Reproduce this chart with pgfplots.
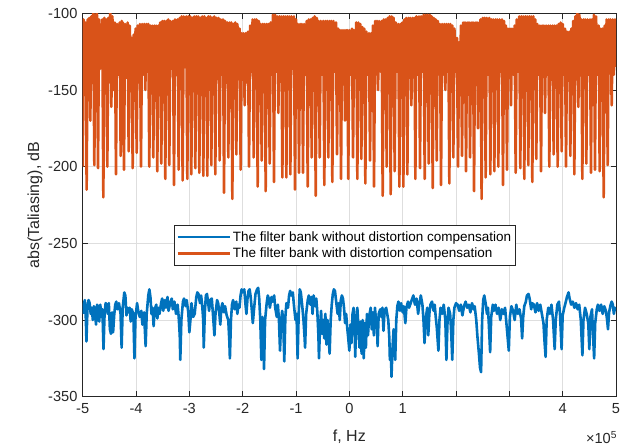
\documentclass[border=0pt]{standalone}
\usepackage{fontspec}
\setmainfont{Liberation Sans}
\usepackage{pgfplots}
\pgfplotsset{compat=1.18}
\definecolor{axc}{RGB}{38,38,38}
\definecolor{gridc}{RGB}{222,222,222}
\definecolor{mblue}{RGB}{0,114,189}
\definecolor{morange}{RGB}{217,83,25}
\begin{document}
\begin{tikzpicture}
\begin{axis}[
  at={(0,0)}, anchor=south west,
  scale only axis, width=533.3bp, height=383.4bp,
  xmin=-5, xmax=5, ymin=-350, ymax=-100,
  xtick={-5,-4,-3,-2,-1,0,1,2,3,4,5},
  xticklabels={-5,-4,-3,-2,-1,0,1,,,4,5},
  ytick={-350,-300,-250,-200,-150,-100},
  yticklabels={-350,-300,-250,-200,-150,-100},
  xtick pos=both, ytick pos=both,
  xticklabel pos=lower, yticklabel pos=left,
  tick align=inside, major tick length=5.3bp,
  grid=major,
  major grid style={draw=gridc, line width=0.6bp},
  axis line style={draw=axc, line width=0.7bp},
  tick style={draw=axc, line width=0.7bp},
  tick label style={font=\fontsize{14.6bp}{17bp}\selectfont, text=axc},
  xticklabel style={yshift=-3bp},
  yticklabel style={xshift=-1.8bp},
  xlabel={f, Hz}, ylabel={abs(Taliasing), dB},
  label style={font=\fontsize{16bp}{19bp}\selectfont, text=axc},
  xlabel style={at={(axis description cs:0.5,-0.1051)}, anchor=center},
  ylabel style={at={(axis description cs:-0.0894,0.5)}, anchor=center, rotate=0},
  legend style={at={(0.1712,0.4478)}, anchor=north west, draw=axc, line width=0.5bp, fill=white,
    font=\fontsize{13.5bp}{16bp}\selectfont, text=black, inner xsep=2bp, inner ysep=4bp,
    row sep=1.5bp, /tikz/every even column/.append style={column sep=1bp}},
  legend cell align=left,
  legend image code/.code={\path (0bp,0bp) -- (52bp,0bp); \draw[#1, line width=2.6bp] (17bp,0bp) -- (52bp,0bp);},
  every axis plot/.append style={line width=2.6bp, line join=round},
]
\addplot[mblue] table[row sep=\\] {
x y\\
-5.00 -296\\ -4.98 -290\\ -4.96 -287\\ -4.94 -300\\ -4.93 -314\\ -4.91 -292\\ -4.89 -287\\ -4.87 -289\\ -4.85 -296\\ -4.83 -292\\
-4.81 -300\\ -4.79 -291\\ -4.77 -295\\ -4.75 -303\\ -4.73 -290\\ -4.71 -293\\ -4.69 -301\\ -4.67 -290\\ -4.65 -298\\ -4.63 -293\\
-4.61 -319\\ -4.59 -296\\ -4.57 -289\\ -4.55 -290\\ -4.53 -296\\ -4.51 -289\\ -4.49 -306\\ -4.47 -309\\ -4.45 -295\\ -4.43 -308\\
-4.41 -297\\ -4.39 -290\\ -4.37 -288\\ -4.35 -293\\ -4.32 -289\\ -4.29 -296\\ -4.27 -318\\ -4.25 -292\\ -4.22 -282\\ -4.20 -284\\
-4.18 -297\\ -4.16 -292\\ -4.14 -295\\ -4.12 -292\\ -4.10 -301\\ -4.08 -293\\ -4.05 -296\\ -4.03 -325\\ -4.01 -298\\ -3.98 -289\\
-3.96 -294\\ -3.93 -298\\ -3.90 -294\\ -3.88 -303\\ -3.85 -295\\ -3.82 -317\\ -3.80 -296\\ -3.77 -284\\ -3.75 -280\\ -3.73 -285\\
-3.71 -296\\ -3.69 -292\\ -3.67 -304\\ -3.65 -293\\ -3.62 -290\\ -3.60 -299\\ -3.58 -292\\ -3.56 -296\\ -3.53 -289\\ -3.51 -286\\
-3.49 -294\\ -3.46 -287\\ -3.44 -292\\ -3.41 -285\\ -3.39 -294\\ -3.36 -289\\ -3.33 -286\\ -3.31 -293\\ -3.28 -288\\ -3.25 -296\\
-3.22 -290\\ -3.20 -298\\ -3.18 -310\\ -3.17 -326\\ -3.15 -300\\ -3.12 -288\\ -3.10 -286\\ -3.07 -291\\ -3.05 -287\\ -3.02 -295\\
-3.00 -308\\ -2.98 -300\\ -2.96 -289\\ -2.93 -298\\ -2.90 -296\\ -2.87 -285\\ -2.85 -282\\ -2.83 -283\\ -2.80 -289\\ -2.78 -284\\
-2.76 -290\\ -2.74 -300\\ -2.73 -318\\ -2.71 -295\\ -2.69 -284\\ -2.67 -283\\ -2.65 -288\\ -2.63 -294\\ -2.61 -287\\ -2.58 -286\\
-2.56 -295\\ -2.53 -310\\ -2.51 -296\\ -2.48 -287\\ -2.46 -289\\ -2.44 -295\\ -2.42 -303\\ -2.40 -292\\ -2.38 -289\\ -2.35 -295\\
-2.33 -291\\ -2.30 -297\\ -2.27 -300\\ -2.25 -314\\ -2.24 -325\\ -2.22 -300\\ -2.20 -290\\ -2.18 -287\\ -2.15 -293\\ -2.12 -288\\
-2.10 -296\\ -2.08 -290\\ -2.06 -292\\ -2.04 -284\\ -2.02 -280\\ -2.00 -282\\ -1.97 -280\\ -1.95 -289\\ -1.93 -296\\ -1.91 -286\\
-1.89 -281\\ -1.87 -280\\ -1.85 -285\\ -1.83 -293\\ -1.81 -302\\ -1.79 -294\\ -1.76 -283\\ -1.73 -280\\ -1.71 -279\\ -1.69 -286\\
-1.67 -300\\ -1.65 -326\\ -1.63 -298\\ -1.61 -310\\ -1.60 -332\\ -1.58 -300\\ -1.55 -289\\ -1.53 -284\\ -1.51 -286\\ -1.49 -292\\
-1.46 -285\\ -1.44 -288\\ -1.41 -284\\ -1.39 -292\\ -1.36 -298\\ -1.34 -290\\ -1.32 -300\\ -1.30 -320\\ -1.28 -301\\ -1.26 -294\\
-1.24 -300\\ -1.22 -327\\ -1.20 -298\\ -1.18 -289\\ -1.15 -292\\ -1.13 -284\\ -1.11 -281\\ -1.09 -284\\ -1.06 -282\\ -1.04 -290\\
-1.01 -300\\ -0.99 -296\\ -0.97 -325\\ -0.95 -296\\ -0.93 -280\\ -0.91 -282\\ -0.88 -292\\ -0.86 -300\\ -0.84 -311\\ -0.83 -318\\
-0.81 -296\\ -0.78 -287\\ -0.76 -284\\ -0.73 -290\\ -0.71 -285\\ -0.69 -296\\ -0.67 -284\\ -0.64 -291\\ -0.62 -286\\ -0.60 -295\\
-0.58 -310\\ -0.57 -325\\ -0.55 -305\\ -0.53 -294\\ -0.51 -309\\ -0.49 -300\\ -0.47 -312\\ -0.45 -296\\ -0.43 -316\\ -0.41 -300\\
-0.39 -310\\ -0.37 -322\\ -0.35 -300\\ -0.33 -290\\ -0.31 -283\\ -0.29 -280\\ -0.27 -281\\ -0.25 -287\\ -0.22 -296\\ -0.20 -289\\
-0.18 -300\\ -0.16 -287\\ -0.14 -284\\ -0.12 -286\\ -0.10 -292\\ -0.08 -302\\ -0.06 -296\\ -0.04 -305\\ -0.02 -312\\ 0.00 -320\\
0.02 -303\\ 0.04 -315\\ 0.06 -296\\ 0.08 -292\\ 0.10 -306\\ 0.11 -324\\ 0.13 -300\\ 0.15 -292\\ 0.17 -305\\ 0.19 -318\\
0.21 -301\\ 0.23 -322\\ 0.25 -300\\ 0.27 -325\\ 0.29 -302\\ 0.31 -318\\ 0.33 -296\\ 0.35 -310\\ 0.37 -298\\ 0.40 -292\\
0.42 -306\\ 0.44 -295\\ 0.46 -310\\ 0.48 -292\\ 0.50 -300\\ 0.52 -306\\ 0.53 -317\\ 0.55 -296\\ 0.58 -293\\ 0.60 -298\\
0.62 -292\\ 0.64 -307\\ 0.66 -294\\ 0.69 -292\\ 0.71 -296\\ 0.73 -300\\ 0.75 -312\\ 0.76 -326\\ 0.78 -320\\ 0.79 -337\\
0.81 -318\\ 0.83 -306\\ 0.85 -320\\ 0.86 -326\\ 0.88 -300\\ 0.90 -291\\ 0.92 -288\\ 0.95 -294\\ 0.97 -289\\ 1.00 -295\\
1.02 -291\\ 1.05 -302\\ 1.07 -292\\ 1.10 -288\\ 1.12 -292\\ 1.15 -289\\ 1.18 -286\\ 1.20 -284\\ 1.23 -290\\ 1.26 -286\\
1.29 -296\\ 1.31 -290\\ 1.34 -284\\ 1.37 -290\\ 1.39 -300\\ 1.41 -315\\ 1.43 -300\\ 1.46 -292\\ 1.48 -310\\ 1.50 -296\\
1.52 -290\\ 1.55 -288\\ 1.58 -294\\ 1.60 -290\\ 1.62 -298\\ 1.64 -305\\ 1.67 -320\\ 1.69 -300\\ 1.71 -292\\ 1.74 -296\\
1.77 -290\\ 1.80 -300\\ 1.82 -326\\ 1.84 -302\\ 1.86 -292\\ 1.89 -296\\ 1.91 -308\\ 1.93 -326\\ 1.95 -300\\ 1.97 -292\\
2.00 -289\\ 2.03 -290\\ 2.06 -294\\ 2.09 -290\\ 2.12 -297\\ 2.15 -291\\ 2.18 -288\\ 2.21 -292\\ 2.24 -290\\ 2.27 -295\\
2.30 -289\\ 2.33 -293\\ 2.35 -291\\ 2.38 -300\\ 2.40 -310\\ 2.43 -322\\ 2.45 -331\\ 2.47 -334\\ 2.49 -300\\ 2.51 -287\\
2.53 -284\\ 2.56 -290\\ 2.58 -296\\ 2.60 -292\\ 2.62 -306\\ 2.64 -321\\ 2.66 -298\\ 2.69 -290\\ 2.71 -294\\ 2.74 -290\\
2.77 -296\\ 2.80 -292\\ 2.83 -300\\ 2.86 -293\\ 2.89 -296\\ 2.92 -292\\ 2.94 -300\\ 2.96 -308\\ 2.99 -320\\ 3.01 -298\\
3.04 -291\\ 3.07 -294\\ 3.10 -300\\ 3.13 -290\\ 3.16 -296\\ 3.19 -293\\ 3.22 -299\\ 3.24 -312\\ 3.26 -298\\ 3.28 -291\\
3.31 -288\\ 3.33 -284\\ 3.36 -283\\ 3.38 -286\\ 3.41 -293\\ 3.43 -289\\ 3.46 -290\\ 3.49 -295\\ 3.52 -289\\ 3.55 -294\\
3.58 -290\\ 3.61 -296\\ 3.64 -302\\ 3.66 -314\\ 3.68 -324\\ 3.70 -300\\ 3.73 -292\\ 3.76 -296\\ 3.79 -290\\ 3.82 -300\\
3.85 -319\\ 3.87 -300\\ 3.90 -290\\ 3.93 -288\\ 3.95 -296\\ 3.98 -319\\ 4.00 -297\\ 4.03 -292\\ 4.06 -288\\ 4.08 -285\\
4.11 -282\\ 4.13 -286\\ 4.16 -290\\ 4.19 -288\\ 4.22 -292\\ 4.25 -289\\ 4.28 -293\\ 4.31 -290\\ 4.34 -300\\ 4.37 -323\\
4.39 -300\\ 4.42 -292\\ 4.45 -296\\ 4.48 -302\\ 4.50 -319\\ 4.52 -298\\ 4.55 -293\\ 4.57 -310\\ 4.59 -325\\ 4.61 -302\\
4.64 -293\\ 4.66 -290\\ 4.69 -294\\ 4.72 -290\\ 4.75 -296\\ 4.78 -291\\ 4.81 -294\\ 4.83 -299\\ 4.85 -306\\ 4.87 -295\\
4.90 -290\\ 4.92 -288\\ 4.94 -290\\ 4.96 -296\\ 4.98 -292\\ 5.00 -294\\
};
\addlegendentry{The filter bank without distortion compensation}
\addplot[morange] table[row sep=\\] {
x y\\
-5.000 -200\\ -4.985 -104\\ -4.965 -140\\ -4.946 -106\\ -4.926 -215\\ -4.906 -104\\ -4.891 -138\\ -4.877 -103\\ -4.857 -170\\ -4.837 -102\\
-4.820 -135\\ -4.802 -100\\ -4.782 -199\\ -4.762 -101\\ -4.748 -140\\ -4.733 -100\\ -4.713 -201\\ -4.693 -104\\ -4.663 -136\\ -4.633 -104\\
-4.613 -220\\ -4.593 -103\\ -4.576 -142\\ -4.558 -104\\ -4.538 -200\\ -4.518 -103\\ -4.500 -145\\ -4.483 -100\\ -4.463 -161\\ -4.443 -102\\
-4.420 -150\\ -4.396 -106\\ -4.376 -205\\ -4.356 -107\\ -4.332 -140\\ -4.308 -106\\ -4.288 -193\\ -4.268 -105\\ -4.257 -138\\ -4.246 -106\\
-4.226 -202\\ -4.206 -107\\ -4.182 -142\\ -4.158 -106\\ -4.138 -190\\ -4.118 -108\\ -4.100 -136\\ -4.083 -116\\ -4.063 -201\\ -4.043 -114\\
-4.025 -140\\ -4.008 -110\\ -3.988 -191\\ -3.968 -108\\ -3.948 -145\\ -3.927 -107\\ -3.907 -200\\ -3.887 -107\\ -3.866 -140\\ -3.846 -107\\
-3.826 -150\\ -3.806 -107\\ -3.788 -138\\ -3.771 -107\\ -3.751 -200\\ -3.731 -108\\ -3.713 -142\\ -3.696 -108\\ -3.676 -194\\ -3.656 -108\\
-3.638 -140\\ -3.621 -108\\ -3.601 -203\\ -3.581 -108\\ -3.563 -138\\ -3.546 -106\\ -3.526 -198\\ -3.506 -105\\ -3.488 -135\\ -3.471 -105\\
-3.451 -208\\ -3.431 -105\\ -3.413 -140\\ -3.396 -104\\ -3.376 -199\\ -3.356 -105\\ -3.332 -136\\ -3.308 -105\\ -3.288 -212\\ -3.268 -104\\
-3.244 -140\\ -3.221 -104\\ -3.201 -202\\ -3.181 -103\\ -3.163 -138\\ -3.146 -102\\ -3.126 -209\\ -3.106 -102\\ -3.082 -135\\ -3.058 -102\\
-3.038 -208\\ -3.018 -102\\ -3.000 -140\\ -2.983 -102\\ -2.963 -205\\ -2.943 -103\\ -2.925 -138\\ -2.908 -102\\ -2.888 -201\\ -2.868 -102\\
-2.850 -136\\ -2.833 -102\\ -2.813 -204\\ -2.793 -103\\ -2.775 -140\\ -2.758 -102\\ -2.738 -206\\ -2.718 -102\\ -2.700 -135\\ -2.683 -103\\
-2.663 -206\\ -2.643 -102\\ -2.625 -138\\ -2.608 -102\\ -2.588 -199\\ -2.568 -103\\ -2.550 -140\\ -2.533 -102\\ -2.513 -205\\ -2.493 -103\\
-2.472 -137\\ -2.452 -103\\ -2.432 -196\\ -2.412 -104\\ -2.391 -140\\ -2.370 -104\\ -2.350 -217\\ -2.330 -105\\ -2.310 -138\\ -2.289 -106\\
-2.269 -194\\ -2.249 -106\\ -2.231 -140\\ -2.214 -106\\ -2.194 -221\\ -2.174 -107\\ -2.156 -138\\ -2.139 -106\\ -2.119 -192\\ -2.099 -107\\
-2.078 -142\\ -2.058 -110\\ -2.038 -202\\ -2.018 -113\\ -2.000 -140\\ -1.983 -113\\ -1.963 -160\\ -1.943 -113\\ -1.922 -145\\ -1.901 -112\\
-1.881 -200\\ -1.861 -108\\ -1.838 -138\\ -1.814 -104\\ -1.794 -194\\ -1.774 -104\\ -1.756 -140\\ -1.739 -104\\ -1.719 -213\\ -1.699 -105\\
-1.681 -138\\ -1.664 -107\\ -1.644 -196\\ -1.624 -107\\ -1.606 -140\\ -1.589 -107\\ -1.569 -216\\ -1.549 -107\\ -1.531 -137\\ -1.514 -107\\
-1.494 -198\\ -1.474 -106\\ -1.453 -140\\ -1.433 -101\\ -1.413 -210\\ -1.393 -101\\ -1.372 -138\\ -1.351 -102\\ -1.331 -165\\ -1.311 -102\\
-1.293 -140\\ -1.276 -102\\ -1.256 -207\\ -1.236 -102\\ -1.218 -138\\ -1.201 -102\\ -1.181 -207\\ -1.161 -102\\ -1.143 -140\\ -1.126 -102\\
-1.106 -205\\ -1.086 -102\\ -1.062 -136\\ -1.039 -102\\ -1.019 -215\\ -0.999 -104\\ -0.981 -140\\ -0.964 -107\\ -0.944 -204\\ -0.924 -107\\
-0.906 -138\\ -0.889 -107\\ -0.869 -204\\ -0.849 -107\\ -0.825 -140\\ -0.801 -105\\ -0.781 -213\\ -0.761 -104\\ -0.743 -138\\ -0.726 -104\\
-0.706 -194\\ -0.686 -103\\ -0.668 -140\\ -0.651 -102\\ -0.631 -219\\ -0.611 -103\\ -0.593 -137\\ -0.576 -105\\ -0.556 -194\\ -0.536 -105\\
-0.512 -140\\ -0.489 -105\\ -0.469 -212\\ -0.449 -105\\ -0.431 -138\\ -0.414 -105\\ -0.394 -194\\ -0.374 -105\\ -0.356 -140\\ -0.339 -105\\
-0.319 -210\\ -0.299 -105\\ -0.275 -138\\ -0.251 -106\\ -0.231 -192\\ -0.211 -110\\ -0.193 -140\\ -0.176 -111\\ -0.156 -208\\ -0.136 -111\\
-0.118 -142\\ -0.101 -111\\ -0.081 -170\\ -0.061 -111\\ -0.050 -145\\ -0.040 -111\\ -0.020 -208\\ 0.000 -111\\ 0.025 -140\\ 0.049 -110\\
0.069 -194\\ 0.089 -111\\ 0.110 -142\\ 0.130 -106\\ 0.150 -208\\ 0.170 -106\\ 0.188 -138\\ 0.205 -107\\ 0.225 -195\\ 0.245 -109\\
0.263 -140\\ 0.280 -110\\ 0.300 -211\\ 0.320 -112\\ 0.344 -140\\ 0.368 -113\\ 0.388 -196\\ 0.408 -113\\ 0.426 -142\\ 0.443 -108\\
0.463 -213\\ 0.483 -105\\ 0.500 -140\\ 0.518 -105\\ 0.538 -150\\ 0.558 -105\\ 0.582 -138\\ 0.605 -105\\ 0.625 -219\\ 0.645 -104\\
0.663 -140\\ 0.680 -104\\ 0.700 -200\\ 0.720 -103\\ 0.738 -138\\ 0.755 -102\\ 0.775 -218\\ 0.795 -102\\ 0.813 -140\\ 0.830 -103\\
0.850 -203\\ 0.870 -106\\ 0.894 -138\\ 0.918 -107\\ 0.938 -213\\ 0.958 -107\\ 0.976 -140\\ 0.993 -106\\ 1.013 -213\\ 1.033 -104\\
1.051 -138\\ 1.068 -103\\ 1.088 -205\\ 1.108 -103\\ 1.126 -140\\ 1.143 -103\\ 1.163 -160\\ 1.183 -103\\ 1.201 -138\\ 1.218 -103\\
1.238 -208\\ 1.258 -102\\ 1.282 -140\\ 1.305 -102\\ 1.325 -201\\ 1.345 -102\\ 1.369 -138\\ 1.393 -101\\ 1.413 -208\\ 1.433 -101\\
1.451 -140\\ 1.468 -101\\ 1.488 -198\\ 1.508 -101\\ 1.526 -137\\ 1.543 -102\\ 1.563 -214\\ 1.583 -103\\ 1.601 -140\\ 1.618 -104\\
1.638 -196\\ 1.658 -105\\ 1.679 -138\\ 1.699 -107\\ 1.719 -212\\ 1.739 -107\\ 1.760 -140\\ 1.780 -107\\ 1.800 -150\\ 1.820 -107\\
1.838 -138\\ 1.855 -107\\ 1.875 -211\\ 1.895 -107\\ 1.913 -140\\ 1.930 -108\\ 1.950 -194\\ 1.970 -110\\ 1.994 -138\\ 2.018 -116\\
2.038 -200\\ 2.058 -119\\ 2.076 -140\\ 2.093 -108\\ 2.113 -193\\ 2.133 -106\\ 2.151 -138\\ 2.168 -106\\ 2.188 -203\\ 2.208 -106\\
2.226 -140\\ 2.243 -106\\ 2.263 -194\\ 2.283 -106\\ 2.301 -138\\ 2.318 -106\\ 2.338 -216\\ 2.358 -106\\ 2.376 -140\\ 2.393 -106\\
2.413 -175\\ 2.433 -106\\ 2.447 -142\\ 2.460 -104\\ 2.480 -221\\ 2.500 -103\\ 2.518 -138\\ 2.536 -103\\ 2.556 -207\\ 2.576 -103\\
2.600 -140\\ 2.624 -103\\ 2.644 -205\\ 2.664 -104\\ 2.682 -138\\ 2.699 -104\\ 2.719 -203\\ 2.739 -104\\ 2.757 -140\\ 2.774 -104\\
2.794 -200\\ 2.814 -104\\ 2.838 -138\\ 2.861 -104\\ 2.881 -212\\ 2.901 -105\\ 2.919 -140\\ 2.936 -108\\ 2.956 -202\\ 2.976 -110\\
2.994 -142\\ 3.011 -110\\ 3.031 -160\\ 3.051 -110\\ 3.075 -140\\ 3.099 -108\\ 3.119 -204\\ 3.139 -104\\ 3.163 -138\\ 3.186 -102\\
3.206 -201\\ 3.226 -102\\ 3.244 -140\\ 3.261 -102\\ 3.281 -208\\ 3.301 -102\\ 3.319 -137\\ 3.336 -102\\ 3.356 -199\\ 3.376 -102\\
3.394 -140\\ 3.411 -102\\ 3.431 -210\\ 3.451 -102\\ 3.469 -138\\ 3.486 -104\\ 3.506 -195\\ 3.526 -107\\ 3.550 -140\\ 3.574 -108\\
3.594 -203\\ 3.614 -108\\ 3.632 -138\\ 3.649 -108\\ 3.669 -165\\ 3.689 -108\\ 3.710 -140\\ 3.730 -108\\ 3.750 -200\\ 3.770 -108\\
3.791 -138\\ 3.811 -108\\ 3.831 -192\\ 3.851 -108\\ 3.869 -140\\ 3.886 -108\\ 3.906 -200\\ 3.926 -107\\ 3.944 -138\\ 3.961 -106\\
3.981 -190\\ 4.001 -107\\ 4.022 -140\\ 4.043 -110\\ 4.063 -200\\ 4.083 -112\\ 4.104 -138\\ 4.124 -112\\ 4.144 -193\\ 4.164 -110\\
4.182 -140\\ 4.199 -105\\ 4.219 -205\\ 4.239 -102\\ 4.257 -142\\ 4.274 -100\\ 4.294 -161\\ 4.314 -101\\ 4.332 -140\\ 4.349 -104\\
4.369 -208\\ 4.389 -104\\ 4.407 -138\\ 4.424 -104\\ 4.444 -198\\ 4.464 -104\\ 4.488 -140\\ 4.511 -104\\ 4.531 -204\\ 4.551 -104\\
4.569 -138\\ 4.586 -101\\ 4.606 -202\\ 4.626 -102\\ 4.650 -140\\ 4.674 -108\\ 4.694 -203\\ 4.714 -110\\ 4.732 -138\\ 4.749 -110\\
4.769 -220\\ 4.789 -108\\ 4.807 -140\\ 4.824 -104\\ 4.844 -199\\ 4.864 -104\\ 4.882 -138\\ 4.899 -104\\ 4.919 -160\\ 4.939 -104\\
4.960 -140\\ 4.980 -104\\ 5.000 -135\\
};
\addlegendentry{The filter bank with distortion compensation}
\end{axis}
\node[anchor=east, text=axc, font=\fontsize{14.6bp}{17bp}\selectfont, inner sep=0pt] at (534.5bp,-40.5bp) {×10\textsuperscript{5}};
\pgfresetboundingbox
\path[use as bounding box] (-82.7bp,-51.3bp) rectangle (545.3bp,396.7bp);
\end{tikzpicture}
\end{document}
